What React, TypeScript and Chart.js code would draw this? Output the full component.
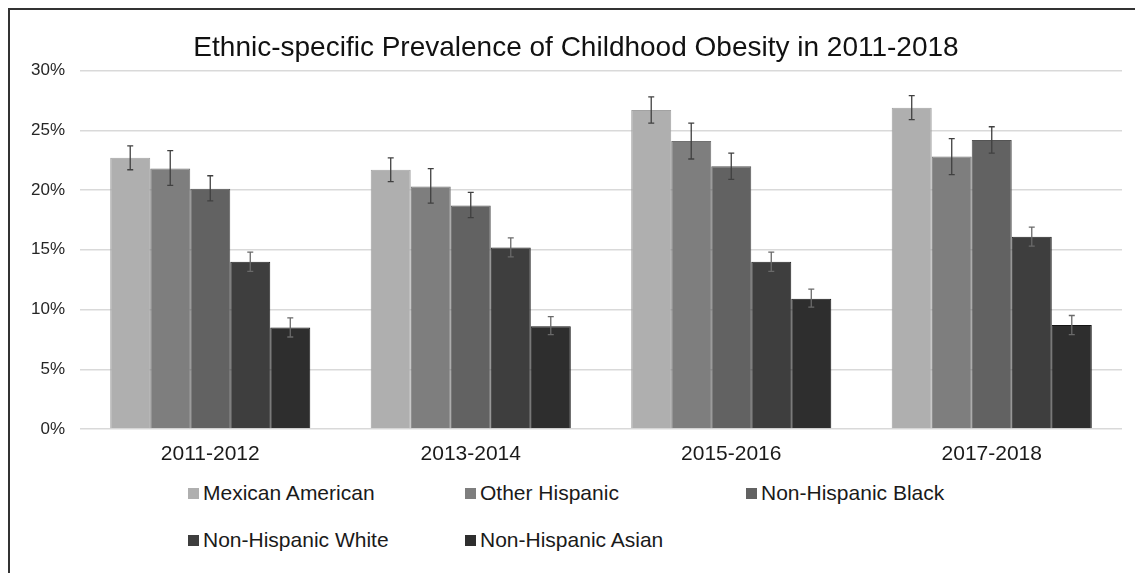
import React, { useEffect, useRef } from "react";
import { Chart, registerables } from "chart.js";

Chart.register(...registerables);

const categories = ["2011-2012", "2013-2014", "2015-2016", "2017-2018"];
const seriesNames = [
  "Mexican American",
  "Other Hispanic",
  "Non-Hispanic Black",
  "Non-Hispanic White",
  "Non-Hispanic Asian",
];

const mexicanAmerican = [22.7, 21.7, 26.7, 26.9];
const otherHispanic = [21.8, 20.3, 24.1, 22.8];
const nonHispanicBlack = [20.1, 18.7, 22.0, 24.2];
const nonHispanicWhite = [14.0, 15.2, 14.0, 16.1];
const nonHispanicAsian = [8.5, 8.6, 10.9, 8.7];

const mexicanAmericanLow = [21.7, 20.7, 25.6, 25.9];
const mexicanAmericanHigh = [23.7, 22.7, 27.8, 27.9];
const otherHispanicLow = [20.4, 18.9, 22.6, 21.3];
const otherHispanicHigh = [23.3, 21.8, 25.6, 24.3];
const nonHispanicBlackLow = [19.1, 17.7, 20.9, 23.1];
const nonHispanicBlackHigh = [21.2, 19.8, 23.1, 25.3];
const nonHispanicWhiteLow = [13.2, 14.4, 13.2, 15.3];
const nonHispanicWhiteHigh = [14.8, 16.0, 14.8, 16.9];
const nonHispanicAsianLow = [7.7, 7.9, 10.2, 7.9];
const nonHispanicAsianHigh = [9.3, 9.4, 11.7, 9.5];

const yTicks = [0, 5, 10, 15, 20, 25, 30];

const seriesValues = [mexicanAmerican, otherHispanic, nonHispanicBlack, nonHispanicWhite, nonHispanicAsian];
const seriesLow = [mexicanAmericanLow, otherHispanicLow, nonHispanicBlackLow, nonHispanicWhiteLow, nonHispanicAsianLow];
const seriesHigh = [mexicanAmericanHigh, otherHispanicHigh, nonHispanicBlackHigh, nonHispanicWhiteHigh, nonHispanicAsianHigh];

const fills = ["#afafaf", "#7e7e7e", "#626262", "#3e3e3e", "#2e2e2e"];
const borders = ["#a2a2a2", "#717171", "#545454", "#222222", "#151515"];

const FONT = '"Liberation Sans", Arial, Helvetica, sans-serif';

const errorBarPlugin = {
  id: "errorBars",
  afterDatasetsDraw(chart: any) {
    const ctx = chart.ctx;
    const y = chart.scales.y;
    ctx.save();
    chart.data.datasets.forEach((ds: any, i: number) => {
      const meta = chart.getDatasetMeta(i);
      meta.data.forEach((el: any, j: number) => {
        const x = el.x;
        const yh = y.getPixelForValue(seriesHigh[i][j]);
        const yl = y.getPixelForValue(seriesLow[i][j]);
        ctx.strokeStyle = i >= 3 ? "#6a6a6a" : "#404040";
        ctx.lineWidth = 1.3;
        ctx.beginPath();
        ctx.moveTo(x, yh);
        ctx.lineTo(x, yl);
        ctx.moveTo(x - 3, yh);
        ctx.lineTo(x + 3, yh);
        ctx.moveTo(x - 3, yl);
        ctx.lineTo(x + 3, yl);
        ctx.stroke();
      });
    });
    ctx.restore();
  },
};

function ChartCanvas() {
  const ref = useRef<HTMLCanvasElement | null>(null);
  useEffect(() => {
    if (!ref.current) return;
    const chart = new Chart(ref.current, {
      type: "bar",
      data: {
        labels: categories,
        datasets: seriesNames.map((name, i) => ({
          label: name,
          data: seriesValues[i],
          backgroundColor: fills[i],
          borderColor: borders[i],
          borderWidth: 1,
          categoryPercentage: 0.768,
          barPercentage: 1,
        })),
      },
      options: {
        animation: false,
        responsive: false,
        maintainAspectRatio: false,
        layout: { padding: { top: 0, left: 20, right: 13, bottom: 0 } },
        plugins: {
          legend: { display: false },
          tooltip: { enabled: false },
          title: {
            display: true,
            text: "Ethnic-specific Prevalence of Childhood Obesity in 2011-2018",
            color: "#111",
            font: { family: FONT, size: 28, weight: "normal" },
            padding: { top: 21, bottom: 6 },
          },
        },
        scales: {
          x: {
            grid: { display: false, drawTicks: false },
            border: { display: false },
            ticks: {
              color: "#1a1a1a",
              font: { family: FONT, size: 21 },
              padding: 13,
            },
            afterFit: (s: any) => {
              s.height = 51;
            },
          },
          y: {
            min: 0,
            max: 30,
            afterBuildTicks: (s: any) => {
              s.ticks = yTicks.map((v) => ({ value: v }));
            },
            grid: { color: "#d9d9d9", lineWidth: 1.5, drawTicks: false },
            border: { display: false },
            ticks: {
              color: "#262626",
              font: { family: FONT, size: 17 },
              padding: 15,
              callback: (v: any) => v + "%",
            },
            afterFit: (s: any) => {
              s.width = 50;
            },
          },
        },
      },
      plugins: [errorBarPlugin],
    } as any);
    return () => chart.destroy();
  }, []);
  return <canvas ref={ref} width={1125} height={470} style={{ display: "block" }} />;
}

const legendPos = [
  { left: 178, top: 483 },
  { left: 455, top: 483 },
  { left: 736, top: 483 },
  { left: 178, top: 530 },
  { left: 455, top: 530 },
];

export default function App() {
  return (
    <div
      style={{
        position: "relative",
        width: 1129,
        height: 570,
        boxSizing: "border-box",
        border: "2px solid #333",
        background: "#fff",
        fontFamily: FONT,
      }}
    >
      <ChartCanvas />
      {seriesNames.map((name, i) => (
        <div
          key={name}
          style={{
            position: "absolute",
            left: legendPos[i].left,
            top: legendPos[i].top - 12,
            height: 24,
            display: "flex",
            alignItems: "center",
            whiteSpace: "nowrap",
          }}
        >
          <span
            style={{
              display: "inline-block",
              width: 11,
              height: 11,
              background: fills[i],
              marginRight: 4,
            }}
          />
          <span style={{ fontSize: 21, lineHeight: "24px", color: "#1a1a1a" }}>{name}</span>
        </div>
      ))}
    </div>
  );
}
